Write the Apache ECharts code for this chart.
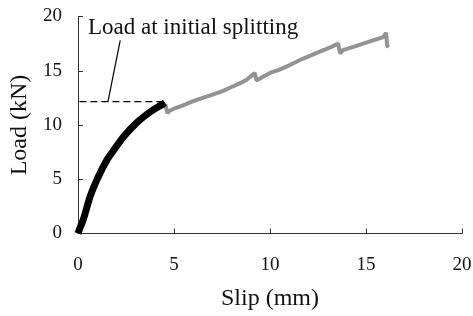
<!DOCTYPE html>
<html>
<head>
<meta charset="utf-8">
<script src="https://cdn.jsdelivr.net/npm/echarts@6/dist/echarts.min.js"></script>
<style>
  html, body { margin: 0; padding: 0; background: #fff; }
  #chart { width: 473px; height: 316px; }
</style>
</head>
<body>
<div id="chart"></div>
<script>
// 初期載荷曲線 (slip mm, load kN)
const preSplit = [[0, 0], [0.1, 0.5], [0.28, 1.3], [0.63, 3.4], [0.97, 4.9], [1.3, 6.1], [1.55, 6.9], [1.75, 7.4],
  [2.36, 8.9], [3.05, 10.2], [3.75, 11.2], [4.2, 11.7], [4.4, 11.9], [4.53, 12.05]];
// 割裂後
const postSplit = [[4.55, 11.9], [4.65, 11.1], [4.75, 11.3], [5.0, 11.5], [5.3, 11.7], [5.6, 11.9], [6.0, 12.2],
  [6.5, 12.5], [7.0, 12.8], [7.5, 13.1], [8.0, 13.5], [8.5, 13.9], [8.8, 14.2], [9.0, 14.5], [9.2, 14.8],
  [9.3, 14.1], [9.5, 14.3], [10.0, 14.8], [10.5, 15.1], [11.0, 15.5], [11.7, 16.1], [12.5, 16.7], [13.2, 17.2],
  [13.55, 17.5], [13.65, 16.6], [13.8, 16.9], [14.5, 17.3], [15.2, 17.7], [15.9, 18.1], [16.05, 18.5],
  [16.1, 17.3], [16.2, 17.2]];
// 初期割裂荷重ライン
const splitLine = [[-0.5, 12.15], [4.4, 12.15]];
const leader = [[2.2, 17.8], [1.56, 12.15]];
const xTicks = [0, 5, 10, 15, 20];
const yTicks = [0, 5, 10, 15, 20];

const font = 'Liberation Serif';
let chart = echarts.init(document.getElementById('chart'), null, { renderer: 'canvas' });

chart.setOption({
  backgroundColor: '#fff',
  animation: false,
  grid: { left: 78, right: 11, top: 16.5, bottom: 82.5, containLabel: false, outerBoundsMode: 'none' },
  xAxis: {
    type: 'value', min: xTicks[0], max: xTicks[xTicks.length - 1], interval: 5,
    name: 'Slip (mm)', nameLocation: 'middle', nameGap: 53,
    nameTextStyle: { fontFamily: font, fontSize: 24, color: '#111', verticalAlign: 'top' },
    axisLine: { lineStyle: { color: '#333', width: 1 } },
    axisTick: { inside: true, length: 5, lineStyle: { color: '#333' } },
    axisLabel: { fontFamily: font, fontSize: 19, color: '#111', margin: 22 },
    splitLine: { show: false }
  },
  yAxis: {
    type: 'value', min: yTicks[0], max: yTicks[yTicks.length - 1], interval: 5,
    name: 'Load (kN)', nameLocation: 'middle', nameGap: 46,
    nameTextStyle: { fontFamily: font, fontSize: 24, color: '#111' },
    axisLine: { show: true, lineStyle: { color: '#333', width: 1 } },
    axisTick: { show: true, inside: true, length: 5, lineStyle: { color: '#333' } },
    axisLabel: { fontFamily: font, fontSize: 19, color: '#111', margin: 16 },
    splitLine: { show: false }
  },
  graphic: [{
    type: 'text', left: 88, top: 16,
    style: { text: 'Load at initial splitting', fontFamily: font, fontSize: 23, fill: '#111' }
  }],
  series: [
    {
      type: 'line', data: postSplit, showSymbol: false, clip: false,
      lineStyle: { color: '#939393', width: 4 }
    },
    {
      type: 'line', data: preSplit, showSymbol: false, smooth: 0.3,
      lineStyle: { color: '#000', width: 7 }
    },
    {
      type: 'line', data: splitLine, showSymbol: false, clip: false,
      lineStyle: { color: '#000', width: 1.2, type: [7, 4] }
    },
    {
      type: 'line', data: leader, showSymbol: false, clip: false,
      lineStyle: { color: '#000', width: 1.2 }
    }
  ]
});
</script>
</body>
</html>
